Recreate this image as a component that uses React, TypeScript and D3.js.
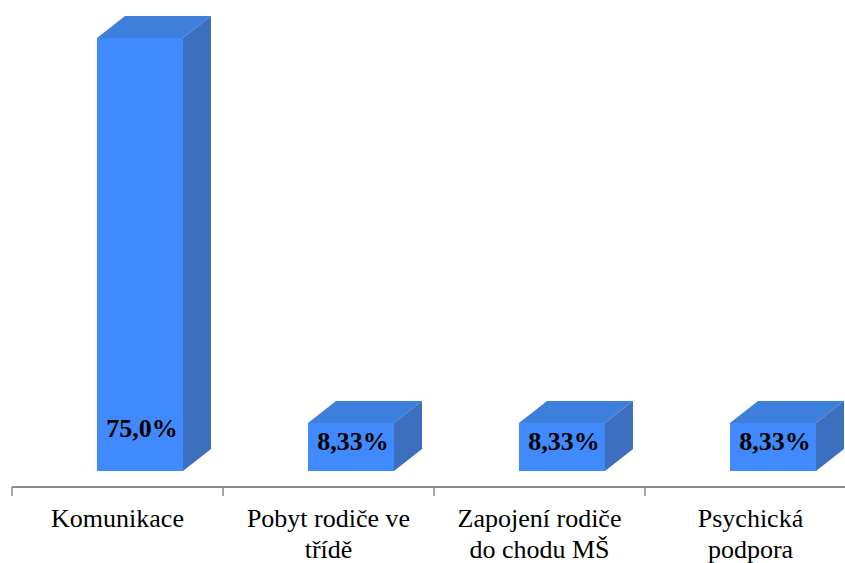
import React from "react";
import * as d3 from "d3";

const categories = ["Komunikace", "Pobyt rodiče ve třídě", "Zapojení rodiče do chodu MŠ", "Psychická podpora"];
const categoryLines = [["Komunikace"], ["Pobyt rodiče ve", "třídě"], ["Zapojení rodiče", "do chodu MŠ"], ["Psychická", "podpora"]];
const values = [75.0, 8.33, 8.33, 8.33];
const valueLabels = ["75,0%", "8,33%", "8,33%", "8,33%"];

const serif = `"Liberation Serif", "Times New Roman", serif`;

const App = () => {
  const x = d3.scaleBand().domain(categories).range([12, 856]).padding(0);
  const y = d3.scaleLinear().domain([0, 75]).range([471, 38]);

  const frontW = 86;
  const offset = 85;
  const dx = 28;
  const dy = 22;
  const yb = y(0);

  return (
    <svg width={845} height={563} style={{ position: "absolute", left: 0, top: 0 }}>
      <line x1={12} x2={845} y1={487} y2={487} stroke="#8c8c8c" strokeWidth={2} />
      {categories.map((c) => (
        <line key={c} x1={x(c)} x2={x(c)} y1={487} y2={496} stroke="#8c8c8c" strokeWidth={1.5} />
      ))}
      {categories.map((c, i) => {
        const x0 = x(c)! + offset;
        const x1 = x0 + frontW;
        const yt = y(values[i]);
        const h = yb - yt;
        // labels sit near the base of the front face
        const ly = yb - Math.min(h / 2 + 6, 43);
        return (
          <g key={c}>
            <polygon
              points={`${x0},${yt} ${x0 + dx},${yt - dy} ${x1 + dx},${yt - dy} ${x1},${yt}`}
              fill="#3f7fdc"
            />
            <polygon
              points={`${x1},${yt} ${x1 + dx},${yt - dy} ${x1 + dx},${yb - dy} ${x1},${yb}`}
              fill="#3d6fbf"
            />
            <rect x={x0} y={yt} width={frontW} height={h} fill="#418afd" />
            <text
              x={x0 + frontW / 2 + 2}
              y={ly + 9}
              textAnchor="middle"
              style={{ fontFamily: serif, fontWeight: "bold", fontSize: "26px" }}
              fill="#000"
            >
              {valueLabels[i]}
            </text>
          </g>
        );
      })}
      {categories.map((c, i) => (
        <g key={c}>
          {categoryLines[i].map((line, j) => (
            <text
              key={j}
              x={x(c)! + x.bandwidth() / 2}
              y={527 + j * 31}
              textAnchor="middle"
              style={{ fontFamily: serif, fontSize: "26px" }}
              fill="#000"
            >
              {line}
            </text>
          ))}
        </g>
      ))}
    </svg>
  );
};

export default App;
